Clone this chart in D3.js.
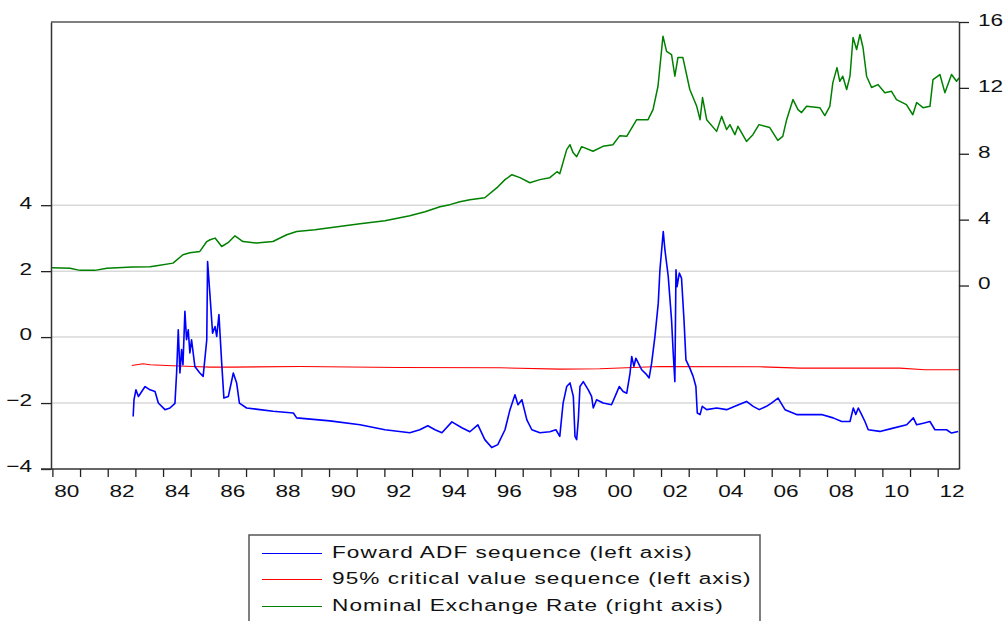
<!DOCTYPE html>
<html>
<head>
<meta charset="utf-8">
<script src="https://cdn.jsdelivr.net/npm/d3@7/dist/d3.min.js"></script>
<style>
  html, body { margin: 0; padding: 0; background: #fff; }
  svg { display: block; }
  text { font-family: "Liberation Sans", Arial, sans-serif; fill: #111; }
</style>
</head>
<body>
<svg id="chart" width="1008" height="621"></svg>
<script>
// ---------------- DATA ----------------
// Nominal exchange rate (right axis)
const fxDates = [1979.99,1980.64,1981.0,1981.54,1981.97,1982.91,1983.53,1983.77,1984.36,1984.72,1984.97,1985.33,1985.58,1985.70,1985.88,1986.12,1986.35,1986.60,1986.89,1987.38,1987.97,1988.47,1988.83,1989.49,1990.03,1991.12,1992.02,1992.92,1993.47,1994.01,1994.37,1994.73,1995.09,1995.63,1996.07,1996.36,1996.61,1996.90,1997.26,1997.62,1997.98,1998.24,1998.34,1998.59,1998.71,1998.82,1998.95,1999.13,1999.54,1999.90,2000.26,2000.51,2000.76,2001.12,2001.53,2001.71,2001.89,2002.07,2002.20,2002.38,2002.50,2002.61,2002.79,2003.04,2003.29,2003.41,2003.50,2003.65,2004.01,2004.19,2004.37,2004.49,2004.67,2004.78,2005.09,2005.32,2005.54,2005.93,2006.22,2006.40,2006.54,2006.77,2006.95,2007.08,2007.26,2007.74,2007.92,2008.10,2008.21,2008.36,2008.46,2008.57,2008.71,2008.83,2008.94,2009.07,2009.19,2009.30,2009.43,2009.61,2009.84,2010.09,2010.33,2010.51,2010.87,2011.10,2011.24,2011.47,2011.72,2011.83,2012.08,2012.26,2012.50,2012.68,2012.77];
const fxValues = [1.08,1.05,0.92,0.92,1.05,1.12,1.14,1.20,1.36,1.87,1.99,2.07,2.67,2.78,2.88,2.37,2.60,3.02,2.67,2.58,2.67,3.08,3.28,3.39,3.51,3.75,3.93,4.24,4.48,4.78,4.91,5.09,5.21,5.33,5.94,6.43,6.73,6.55,6.24,6.43,6.55,6.91,6.79,8.25,8.55,8.07,7.82,8.43,8.15,8.45,8.55,9.10,9.06,10.07,10.07,10.68,12.10,15.14,14.22,14.02,12.71,13.84,13.84,11.90,10.88,10.07,11.41,10.07,9.36,10.27,9.47,9.77,9.16,9.67,8.75,9.16,9.77,9.59,8.81,9.06,10.07,11.29,10.68,10.50,10.88,10.80,10.32,10.88,12.32,13.23,12.40,12.71,11.90,12.71,15.06,14.33,15.24,14.45,12.71,12.02,12.20,11.71,11.79,11.29,10.98,10.37,11.11,10.80,10.88,12.50,12.81,11.71,12.81,12.40,12.60];

// Forward ADF sequence (left axis)
const adfDates = [1982.92,1982.95,1983.02,1983.11,1983.35,1983.53,1983.71,1983.83,1984.07,1984.25,1984.43,1984.49,1984.55,1984.61,1984.67,1984.72,1984.79,1984.85,1984.91,1984.97,1985.03,1985.15,1985.33,1985.45,1985.58,1985.61,1985.70,1985.79,1985.88,1985.94,1986.02,1986.12,1986.20,1986.36,1986.54,1986.66,1986.76,1987.02,1987.50,1987.98,1988.71,1988.83,1990.03,1991.12,1992.02,1992.92,1993.28,1993.57,1993.83,1994.08,1994.44,1994.80,1995.09,1995.38,1995.63,1995.88,1996.10,1996.36,1996.54,1996.72,1996.83,1996.97,1997.15,1997.33,1997.62,1997.98,1998.20,1998.34,1998.46,1998.59,1998.71,1998.83,1998.89,1998.95,1999.01,1999.07,1999.19,1999.37,1999.49,1999.55,1999.67,1999.91,2000.21,2000.39,2000.49,2000.63,2000.76,2000.88,2000.94,2001.02,2001.09,2001.18,2001.30,2001.48,2001.57,2001.66,2001.78,2001.90,2001.96,2002.08,2002.14,2002.26,2002.38,2002.44,2002.50,2002.54,2002.58,2002.66,2002.74,2002.83,2002.90,2003.04,2003.16,2003.26,2003.31,2003.41,2003.49,2003.65,2004.01,2004.37,2004.67,2005.09,2005.33,2005.55,2005.81,2005.99,2006.23,2006.48,2006.90,2007.38,2007.80,2008.22,2008.53,2008.83,2008.95,2009.04,2009.13,2009.25,2009.37,2009.49,2009.91,2010.39,2010.88,2011.12,2011.24,2011.48,2011.72,2011.90,2012.32,2012.50,2012.74];
const adfValues = [-2.41,-1.90,-1.60,-1.80,-1.50,-1.60,-1.65,-2.00,-2.20,-2.15,-2.01,-1.09,0.22,-1.09,-0.38,-0.84,0.78,-0.08,0.22,-0.48,-0.08,-0.89,-1.09,-1.19,-0.08,2.29,1.23,0.12,0.32,0.02,0.68,-0.79,-1.85,-1.80,-1.09,-1.39,-2.00,-2.15,-2.20,-2.25,-2.30,-2.45,-2.54,-2.66,-2.81,-2.90,-2.81,-2.69,-2.81,-2.90,-2.57,-2.75,-2.87,-2.66,-3.11,-3.35,-3.26,-2.81,-2.20,-1.75,-2.05,-1.90,-2.51,-2.81,-2.90,-2.87,-2.81,-3.01,-2.00,-1.50,-1.39,-1.80,-3.01,-3.11,-2.51,-1.50,-1.35,-1.60,-1.80,-2.15,-1.90,-2.00,-2.05,-1.70,-1.50,-1.65,-1.70,-1.09,-0.59,-0.89,-0.64,-0.79,-0.99,-1.14,-1.24,-0.79,0.02,1.03,2.04,3.20,2.65,1.84,0.52,-0.48,-1.35,2.04,1.53,1.94,1.79,0.52,-0.69,-0.94,-1.19,-1.50,-2.30,-2.35,-2.10,-2.20,-2.15,-2.20,-2.10,-1.95,-2.10,-2.20,-2.10,-2.00,-1.85,-2.20,-2.35,-2.35,-2.35,-2.45,-2.56,-2.56,-2.15,-2.35,-2.15,-2.35,-2.56,-2.81,-2.86,-2.76,-2.66,-2.45,-2.66,-2.61,-2.56,-2.81,-2.81,-2.91,-2.86];

// 95% critical value sequence (left axis)
const cvDates = [1982.87,1983.27,1983.53,1984.13,1985.08,1985.70,1986.53,1988.95,1992.56,1996.18,1998.34,1999.79,2001.96,2005.57,2007.02,2010.63,2011.54,2012.77];
const cvValues = [-0.86,-0.81,-0.84,-0.86,-0.89,-0.91,-0.91,-0.89,-0.92,-0.93,-0.97,-0.96,-0.89,-0.90,-0.94,-0.94,-0.99,-0.99];

const leftTicks = [-4, -2, 0, 2, 4];
const leftGrid = [-2, 0, 2, 4];
const rightTicks = [0, 4, 8, 12, 16];
const yearTicks = d3.range(1980, 2013);
const yearLabels = d3.range(1980, 2013, 2);
const legendLabels = ["Foward ADF sequence (left axis)", "95% critical value sequence (left axis)", "Nominal Exchange Rate (right axis)"];
const legendColors = ["#0000ff", "#ff0000", "#008000"];

// ---------------- LAYOUT ----------------
const L = 51, R = 959, T = 22, B = 469;
const SX = 1.33; // horizontal text stretch
const svg = d3.select("#chart");

const x = d3.scaleLinear().domain([1979.95, 2012.77]).range([L, R]);
const yL = d3.scaleLinear().domain([-4, 9.555]).range([B, T]);
const yR = d3.scaleLinear().domain([-11.14, 16]).range([B, T]);

// grid
svg.append("g").selectAll("line").data(leftGrid).join("line")
  .attr("x1", L).attr("x2", R)
  .attr("y1", d => yL(d)).attr("y2", d => yL(d))
  .attr("stroke", "#d9d9d9").attr("stroke-width", 1.5);

// clip
svg.append("defs").append("clipPath").attr("id", "clip")
  .append("rect").attr("x", L).attr("y", T).attr("width", R - L).attr("height", B - T);

const plot = svg.append("g").attr("clip-path", "url(#clip)");
const zipL = (ds, vs) => ds.map((d, i) => [d, vs[i]]);

plot.append("path").datum(zipL(cvDates, cvValues))
  .attr("fill", "none").attr("stroke", "#ff0000").attr("stroke-width", 1.1)
  .attr("d", d3.line().x(d => x(d[0])).y(d => yL(d[1])));
plot.append("path").datum(zipL(fxDates, fxValues))
  .attr("fill", "none").attr("stroke", "#008000").attr("stroke-width", 1.5)
  .attr("stroke-linejoin", "round")
  .attr("d", d3.line().x(d => x(d[0])).y(d => yR(d[1])));
plot.append("path").datum(zipL(adfDates, adfValues))
  .attr("fill", "none").attr("stroke", "#0000ff").attr("stroke-width", 1.6)
  .attr("stroke-linejoin", "round")
  .attr("d", d3.line().x(d => x(d[0])).y(d => yL(d[1])));

// frame top
svg.append("line").attr("x1", L).attr("x2", R).attr("y1", T).attr("y2", T)
  .attr("stroke", "#555").attr("stroke-width", 1.5);

function styleAxis(g) {
  g.selectAll(".domain").attr("stroke", "#333").attr("stroke-width", 1.5);
  g.selectAll(".tick line").attr("stroke", "#222").attr("stroke-width", 1.3);
  g.selectAll("text").attr("font-size", 17).attr("fill", "#111")
    .attr("font-family", '"Liberation Sans", Arial, sans-serif');
}

// left axis
const gL = svg.append("g").attr("transform", `translate(${L},0)`)
  .call(d3.axisLeft(yL).tickValues(leftTicks).tickSize(10).tickSizeOuter(0).tickFormat(d3.format("d")));
styleAxis(gL);
gL.selectAll("text").attr("x", -19 / SX).attr("dy", "0.17em").attr("transform", `scale(${SX},1)`);

// right axis
const gR = svg.append("g").attr("transform", `translate(${R},0)`)
  .call(d3.axisRight(yR).tickValues(rightTicks).tickSize(10).tickSizeOuter(0).tickFormat(d3.format("d")));
styleAxis(gR);
gR.selectAll("text").attr("x", 19 / SX).attr("dy", "0.2em").attr("transform", `scale(${SX},1)`);

// bottom axis ticks
const gB = svg.append("g").attr("transform", `translate(0,${B})`)
  .call(d3.axisBottom(x).tickValues(yearTicks).tickSize(8).tickSizeOuter(0).tickFormat(""));
styleAxis(gB);
gB.select(".domain").attr("d", `M${L - 10},0H${R}`);

// bottom axis labels (centered at mid-year)
const gBL = svg.append("g").attr("transform", `translate(0,${B})`)
  .call(d3.axisBottom(x).tickValues(yearLabels.map(d => d + 0.5)).tickSize(0)
    .tickFormat(d => String(Math.floor(d) % 100).padStart(2, "0")));
gBL.select(".domain").remove();
styleAxis(gBL);
gBL.selectAll("text").attr("y", 28.5).attr("dy", 0).attr("transform", `scale(${SX},1)`);

// legend
const lg = svg.append("g");
lg.append("rect").attr("x", 249).attr("y", 535).attr("width", 511).attr("height", 120)
  .attr("fill", "#fff").attr("stroke", "#555").attr("stroke-width", 1.5);
const rowsY = [553.5, 579.5, 606.5];
legendLabels.forEach((lab, i) => {
  lg.append("line").attr("x1", 262).attr("x2", 322).attr("y1", rowsY[i]).attr("y2", rowsY[i])
    .attr("stroke", legendColors[i]).attr("stroke-width", 1);
  lg.append("text").attr("transform", `translate(332,${rowsY[i] + 4}) scale(${SX},1)`)
    .attr("font-size", 17).attr("letter-spacing", "0.8px").text(lab);
});
</script>
</body>
</html>
